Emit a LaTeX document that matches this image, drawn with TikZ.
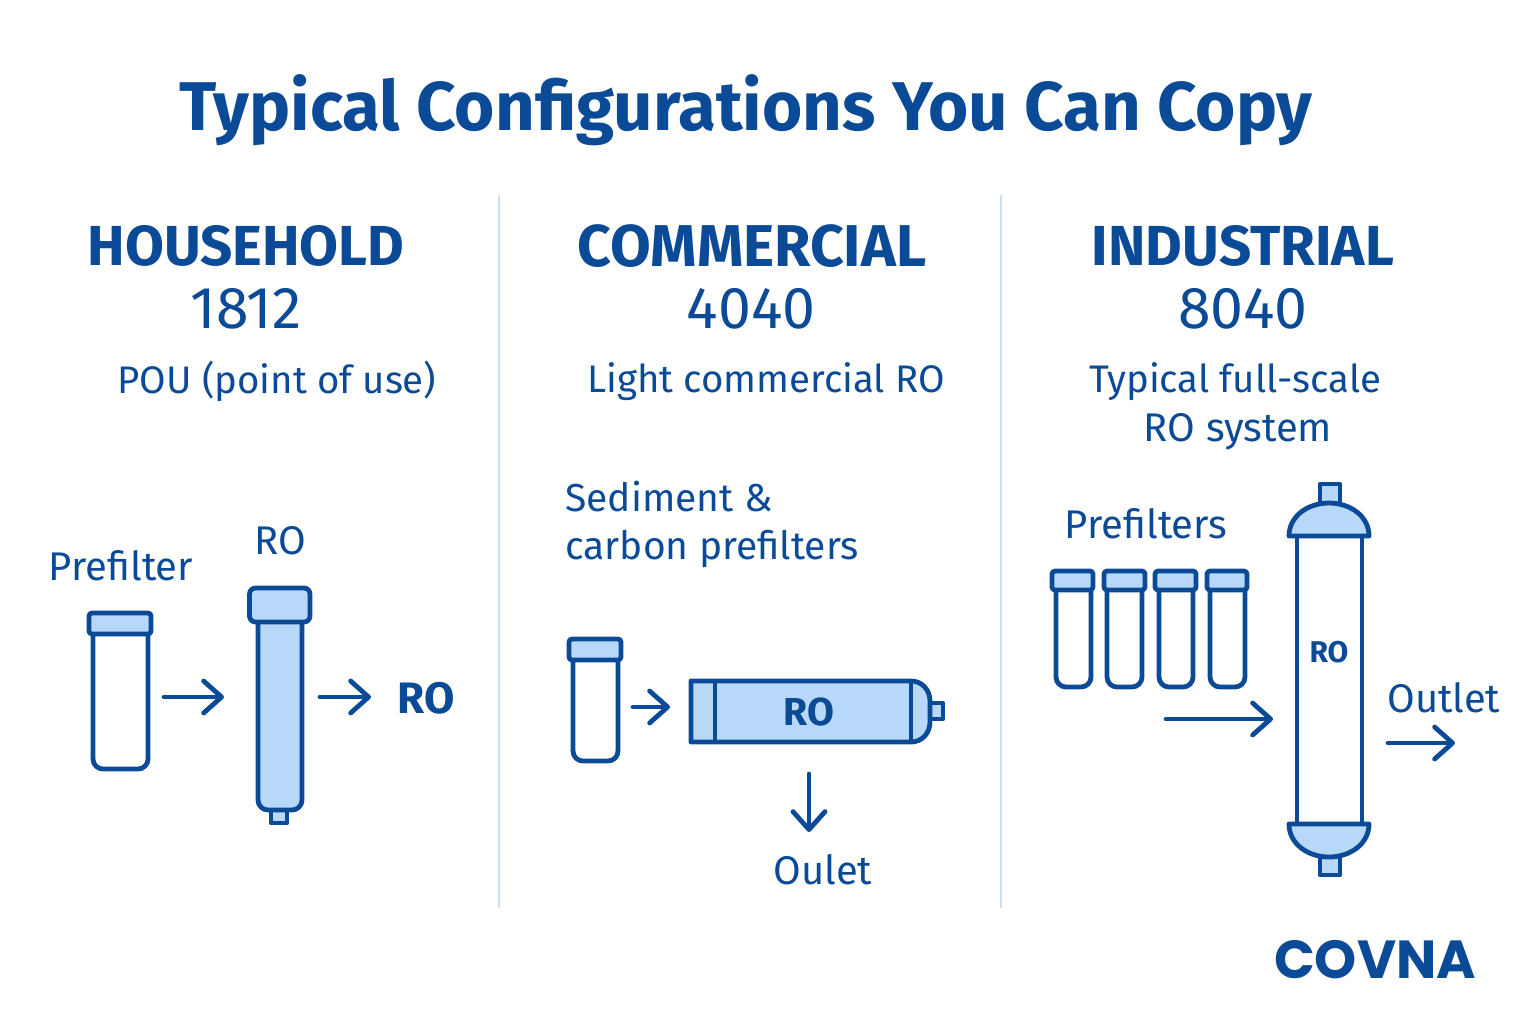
\documentclass[tikz,border=0pt]{standalone}
\usepackage{fontspec}
\setmainfont{Fira Sans}
\newfontfamily\logofont{Poppins}
\usetikzlibrary{arrows.meta}
\definecolor{covnablue}{HTML}{0B4A96}
\definecolor{lightblue}{HTML}{B8D8FA}
\definecolor{rulecolor}{HTML}{CFE0F2}
\tikzset{
  txt/.style={inner sep=0pt,text=covnablue,align=center},
  titletxt/.style={txt,font=\fontsize{34.5}{40}\selectfont\bfseries},
  headtxt/.style={txt,font=\fontsize{#1}{32}\selectfont\bfseries},
  numtxt/.style={txt,font=\fontsize{29.5}{32}\selectfont},
  labeltxt/.style={txt,font=\fontsize{#1}{24}\selectfont},
  rotxt/.style={txt,font=\fontsize{#1}{24}\selectfont\bfseries},
  part/.style={draw=covnablue,line width=2.4pt,line join=round},
  flow/.style={draw=covnablue,line width=2.4pt,line cap=round,
    -{Straight Barb[length=9pt,width=16pt,line cap=round,line join=round]}},
  divider/.style={draw=rulecolor,line width=1pt}
}
% capL capR capT capB bodyL bodyR bodyB
\newcommand{\vial}[7]{
  \draw[part,fill=white,rounded corners=5pt] (#5,#4) -- (#5,#7) -- (#6,#7) -- (#6,#4);
  \draw[part,fill=lightblue,rounded corners=1.5pt] (#1,#3) rectangle (#2,#4);
}
\begin{document}
\begin{tikzpicture}[x=0.5pt,y=-0.5pt]
\useasboundingbox (0,0) rectangle (1536,1024);
\node[titletxt] (title) at (746,110) {Typical Configurations You Can Copy};

\coordinate (rule1top) at (499,195);
\coordinate (rule1end) at (499,908);
\coordinate (rule2top) at (1001,195);
\coordinate (rule2end) at (1001,908);
\draw[divider] (rule1top) -- (rule1end);
\draw[divider] (rule2top) -- (rule2end);

\node[headtxt=28.2] (house) at (246,246) {HOUSEHOLD};
\node[numtxt] (house_num) at (246,309) {1812};
\node[labeltxt=19.2] (house_use) at (277,381) {POU (point of use)};
\node[labeltxt=20] (house_pre) at (121,566) {Prefilter};
\node[labeltxt=20] (house_ro) at (280,541) {RO};
\node[rotxt=22] (house_out) at (426,698) {RO};

\vial{89}{151}{613}{634}{93}{148}{769}
\draw[part,fill=lightblue] (271,808) rectangle (287,823);
\draw[part,fill=lightblue,rounded corners=5pt] (258,620) -- (258,810) -- (302,810) -- (302,620);
\draw[part,fill=lightblue,rounded corners=3pt] (249.5,588) rectangle (310,622);

\coordinate (house_a) at (164,697);
\coordinate (house_b) at (224,697);
\coordinate (house_c) at (320,697);
\coordinate (house_d) at (371,697);
\draw[flow] (house_a) -- (house_b);
\draw[flow] (house_c) -- (house_d);

\node[headtxt=29.5] (comm) at (752,246) {COMMERCIAL};
\node[numtxt] (comm_num) at (751,309) {4040};
\node[labeltxt=19.2] (comm_use) at (766,382) {Light commercial RO};
\node[labeltxt=19.5,anchor=west] (comm_pre1) at (565,497) {Sediment \&};
\node[labeltxt=19.5,anchor=west] (comm_pre2) at (565,549) {carbon prefilters};
\node[labeltxt=20] (comm_out) at (823,870) {Oulet};

\vial{569}{621}{639}{660}{573}{618}{761}
\draw[part,fill=lightblue] (925,703) -- (943,703) -- (943,719) -- (925,719);
\draw[part,fill=lightblue] (691,681) -- (911,681) .. controls (922,681) and (930,690) .. (930,701)
  -- (930,722) .. controls (930,733) and (922,742) .. (911,742) -- (691,742) -- cycle;
\draw[part] (715,681) -- (715,742);
\draw[part] (911,681) -- (911,742);
\node[rotxt=19.5] (comm_ro) at (809,712) {RO};

\coordinate (comm_a) at (633,707);
\coordinate (comm_b) at (670,707);
\coordinate (comm_c) at (809,774);
\coordinate (comm_d) at (809,832);
\draw[flow] (comm_a) -- (comm_b);
\draw[flow] (comm_c) -- (comm_d);

\node[headtxt=28.2] (indu) at (1243,246) {INDUSTRIAL};
\node[numtxt] (indu_num) at (1243,309) {8040};
\node[labeltxt=19.2] (indu_use1) at (1235,382) {Typical full-scale};
\node[labeltxt=20] (indu_use2) at (1238,432) {RO system};
\node[labeltxt=20] (indu_pre) at (1146,524) {Prefilters};
\node[labeltxt=20] (indu_out) at (1444,698) {Outlet};

\vial{1052}{1093}{571}{590}{1056}{1091}{687}
\vial{1104}{1145}{571}{590}{1107}{1142}{687}
\vial{1155}{1196}{571}{590}{1159}{1193}{687}
\vial{1207}{1247}{571}{590}{1210}{1245}{687}

\draw[part,fill=lightblue] (1320,505) -- (1320,484) -- (1340,484) -- (1340,505);
\draw[part,fill=lightblue] (1320,855) -- (1320,875) -- (1340,875) -- (1340,855);
\draw[part,fill=white] (1297,536) rectangle (1362,824);
\draw[part,fill=lightblue] (1289,536) .. controls (1289,516) and (1308,503) .. (1329,503)
  .. controls (1350,503) and (1369,516) .. (1369,536) -- cycle;
\draw[part,fill=lightblue] (1289,824) .. controls (1289,844) and (1308,857) .. (1329,857)
  .. controls (1350,857) and (1369,844) .. (1369,824) -- cycle;
\node[rotxt=15] (indu_ro) at (1329,652) {RO};

\coordinate (indu_a) at (1166,719);
\coordinate (indu_b) at (1273,719);
\coordinate (indu_c) at (1388,743);
\coordinate (indu_d) at (1455,743);
\draw[flow] (indu_a) -- (indu_b);
\draw[flow] (indu_c) -- (indu_d);

\node[txt,font=\logofont\fontsize{26.8}{32}\selectfont\bfseries] (logo) at (1375,960) {COVNA};
\end{tikzpicture}
\end{document}
